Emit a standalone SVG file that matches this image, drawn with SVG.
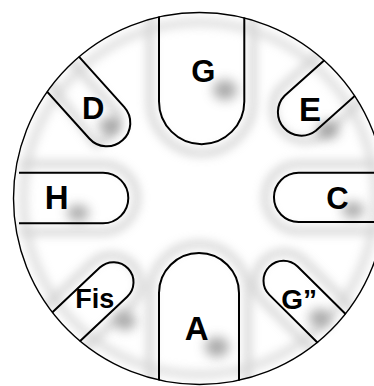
<svg xmlns="http://www.w3.org/2000/svg" width="374" height="386" viewBox="0 0 374 386">
  <defs>
    <filter id="blur" x="-50%" y="-50%" width="200%" height="200%">
      <feGaussianBlur stdDeviation="5"/>
    </filter>
    <filter id="blur2" x="-50%" y="-50%" width="200%" height="200%">
      <feGaussianBlur stdDeviation="6"/>
    </filter>
    <clipPath id="drum">
      <circle cx="199.5" cy="198.5" r="186.5"/>
    </clipPath>
    <style>
      .cut { fill: none; stroke: #000; stroke-width: 2; }
      .halo { fill: none; stroke: #b8b8b8; stroke-width: 7; }
      .spot { fill: #8a8a8a; }
      .lbl { font-family: "Liberation Sans", Arial, sans-serif; font-weight: bold; fill: #000; text-anchor: middle; }
    </style>
  </defs>
  <rect width="374" height="386" fill="#fff"/>

  <!-- soft shading -->
  <g id="shading" opacity="0.6">
    <g filter="url(#blur)" clip-path="url(#drum)">
      <circle cx="199.5" cy="198.5" r="176" fill="none" stroke="#c8c8c8" stroke-width="8"/>
      <path class="halo" d="M150,0 V101.5 A51.65,51.65 0 0 0 253.3,101.5 V0"/>
      <path class="halo" d="M150,400 V293 A49,49 0 0 1 248,293 V400"/>
      <path class="halo" d="M19,164 H103 A34,34 0 0 1 103,232 H19"/>
      <path class="halo" d="M380,164 H298.6 A33.4,33.4 0 0 0 298.6,231 H380"/>
      <path class="halo" d="M64,53 L117.6,113.1 A32.5,32.5 0 0 1 96,144.5 L42.5,73.1"/>
      <path class="halo" d="M338.2,37 L278.6,90 A32.5,32.5 0 0 0 321.8,136.4 L381.4,83.3"/>
      <path class="halo" d="M35.5,316 L93.7,261.2 A29,29 0 0 1 133.3,303.2 L75.1,358"/>
      <path class="halo" d="M360.7,316.4 L303.9,260.1 A29,29 0 0 0 263.1,301.3 L319.9,357.6"/>
    </g>
  </g>
  <g id="label-shadows" filter="url(#blur2)" opacity="0.75">
    <ellipse class="spot" cx="225" cy="90" rx="12" ry="10"/>
    <ellipse class="spot" cx="217" cy="347" rx="12" ry="10"/>
    <ellipse class="spot" cx="110" cy="126" rx="11" ry="9"/>
    <ellipse class="spot" cx="328" cy="130" rx="11" ry="9"/>
    <ellipse class="spot" cx="78" cy="213" rx="11" ry="8"/>
    <ellipse class="spot" cx="353" cy="210" rx="11" ry="8"/>
    <ellipse class="spot" cx="125" cy="321" rx="11" ry="9"/>
    <ellipse class="spot" cx="320" cy="318" rx="11" ry="9"/>
  </g>

  <!-- drum rim -->
  <circle id="rim" cx="199.5" cy="198.5" r="186" fill="none" stroke="#000" stroke-width="1.4"/>

  <!-- tongues -->
  <g id="tongues" clip-path="url(#drum)">
    <g id="tongue-G"><path class="cut" d="M159,0 V101.5 A42.65,42.65 0 0 0 244.3,101.5 V0"/></g>
    <g id="tongue-A"><path class="cut" d="M159,400 V293 A40,40 0 0 1 239,293 V400"/></g>
    <g id="tongue-H"><path class="cut" d="M19,172.7 H103 A25.3,25.3 0 0 1 103,223.3 H19"/></g>
    <g id="tongue-C"><path class="cut" d="M380,172.7 H298.6 A24.65,24.65 0 0 0 298.6,222 H380"/></g>
    <g id="tongue-D"><path class="cut" d="M70.8,47.7 L124.3,107.1 A23.5,23.5 0 0 1 89.3,138.5 L35.8,79.1"/></g>
    <g id="tongue-E"><path class="cut" d="M344.2,42.5 L284.6,95.7 A23.5,23.5 0 0 0 315.8,130.7 L375.4,77.5"/></g>
    <g id="tongue-Fis"><path class="cut" d="M41.6,322.4 L99.8,267.6 A20,20 0 0 1 127.2,296.8 L69,351.6"/></g>
    <g id="tongue-G2"><path class="cut" d="M354.4,322.8 L297.6,266.5 A20,20 0 0 0 269.4,294.9 L326.2,351.2"/></g>
  </g>

  <!-- labels -->
  <g id="labels">
    <text class="lbl" x="203.3" y="82" font-size="31">G</text>
    <text class="lbl" x="196.7" y="340" font-size="33">A</text>
    <text class="lbl" x="93.3" y="119.3" font-size="31">D</text>
    <text class="lbl" x="310" y="120.7" font-size="33">E</text>
    <text class="lbl" x="56.7" y="209.3" font-size="33">H</text>
    <text class="lbl" x="337.5" y="209" font-size="31">C</text>
    <text class="lbl" x="94.7" y="308.3" font-size="27">Fis</text>
    <text class="lbl" x="299.2" y="309" font-size="28">G”</text>
  </g>
</svg>
